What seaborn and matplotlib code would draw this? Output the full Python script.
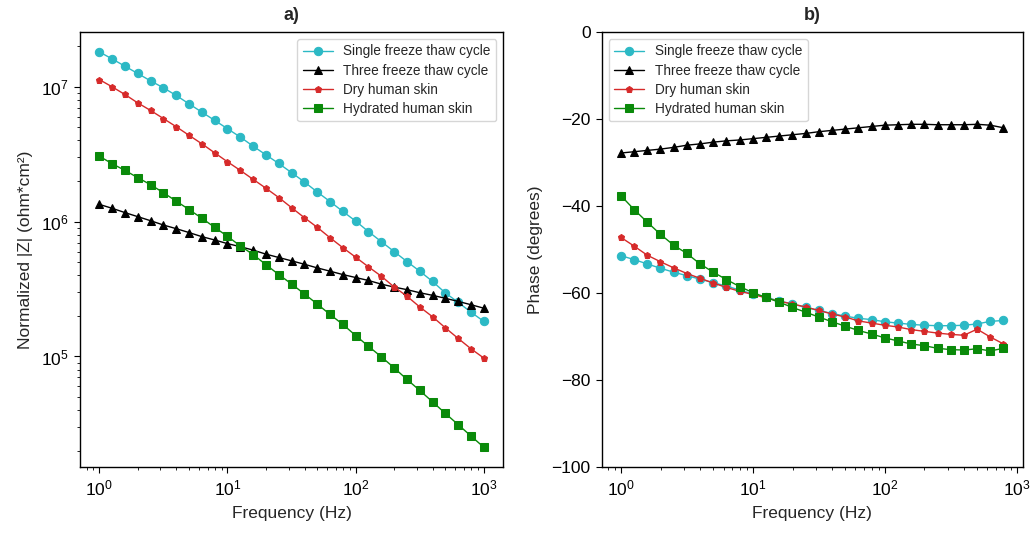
import matplotlib
matplotlib.use("Agg")
import matplotlib.pyplot as plt
import seaborn as sns
import numpy as np

# Frequencies (Hz), 10 points per decade
freq = [1.0, 1.259, 1.585, 1.995, 2.512, 3.162, 3.981, 5.012, 6.310, 7.943,
        10.0, 12.59, 15.85, 19.95, 25.12, 31.62, 39.81, 50.12, 63.10, 79.43,
        100.0, 125.9, 158.5, 199.5, 251.2, 316.2, 398.1, 501.2, 631.0, 794.3,
        1000.0]

labels = ["Single freeze thaw cycle", "Three freeze thaw cycle",
          "Dry human skin", "Hydrated human skin"]

# Panel a) normalized |Z| (ohm*cm^2)
z_single = [1.816e7, 1.611e7, 1.422e7, 1.256e7, 1.107e7, 9.84e6, 8.63e6, 7.48e6, 6.49e6, 5.64e6,
            4.89e6, 4.24e6, 3.63e6, 3.13e6, 2.70e6, 2.31e6, 1.97e6, 1.66e6, 1.41e6, 1.19e6,
            1.01e6, 8.43e5, 7.11e5, 6.00e5, 5.06e5, 4.29e5, 3.60e5, 2.96e5, 2.52e5, 2.13e5,
            1.82e5]
z_three = [1.343e6, 1.256e6, 1.167e6, 1.089e6, 1.016e6, 9.44e5, 8.87e5, 8.30e5, 7.74e5, 7.31e5,
           6.87e5, 6.52e5, 6.15e5, 5.74e5, 5.42e5, 5.12e5, 4.83e5, 4.54e5, 4.29e5, 4.05e5,
           3.85e5, 3.66e5, 3.44e5, 3.27e5, 3.13e5, 2.97e5, 2.84e5, 2.70e5, 2.56e5, 2.42e5,
           2.28e5]
z_dry = [1.132e7, 1.000e7, 8.77e6, 7.60e6, 6.68e6, 5.82e6, 5.06e6, 4.37e6, 3.78e6, 3.24e6,
         2.78e6, 2.40e6, 2.06e6, 1.77e6, 1.51e6, 1.27e6, 1.07e6, 9.08e5, 7.60e5, 6.41e5,
         5.45e5, 4.62e5, 3.94e5, 3.28e5, 2.80e5, 2.33e5, 1.97e5, 1.63e5, 1.36e5, 1.14e5,
         9.73e4]
z_hyd = [3.06e6, 2.69e6, 2.40e6, 2.12e6, 1.88e6, 1.64e6, 1.42e6, 1.23e6, 1.06e6, 9.08e5,
         7.78e5, 6.61e5, 5.70e5, 4.80e5, 4.05e5, 3.45e5, 2.91e5, 2.45e5, 2.05e5, 1.73e5,
         1.43e5, 1.19e5, 9.95e4, 8.24e4, 6.76e4, 5.60e4, 4.61e4, 3.78e4, 3.12e4, 2.57e4,
         2.12e4]

# Panel b) phase (degrees), first 30 frequencies
p_single = [-51.4, -52.3, -53.3, -54.3, -55.2, -56.0, -56.8, -57.6, -58.4, -59.3,
            -60.2, -61.0, -61.8, -62.5, -63.3, -64.0, -64.7, -65.3, -65.8, -66.1,
            -66.6, -66.9, -67.2, -67.4, -67.5, -67.5, -67.4, -67.1, -66.5, -66.3]
p_three = [-27.8, -27.5, -27.2, -26.9, -26.5, -26.0, -25.7, -25.3, -25.0, -24.8,
           -24.5, -24.2, -23.9, -23.6, -23.3, -22.9, -22.6, -22.3, -22.0, -21.7,
           -21.4, -21.3, -21.2, -21.2, -21.3, -21.3, -21.3, -21.2, -21.4, -22.0]
p_dry = [-47.2, -49.2, -51.3, -52.8, -54.2, -55.5, -56.6, -57.7, -58.7, -59.6,
         -60.3, -61.1, -61.9, -62.5, -63.2, -64.0, -64.8, -65.5, -66.4, -66.9,
         -67.4, -67.8, -68.4, -68.8, -69.2, -69.5, -69.7, -68.3, -70.1, -71.7]
p_hyd = [-37.6, -40.8, -43.7, -46.5, -49.0, -50.9, -53.3, -55.2, -56.9, -58.5,
         -59.9, -61.0, -62.1, -63.3, -64.4, -65.5, -66.6, -67.6, -68.6, -69.4,
         -70.3, -71.0, -71.7, -72.1, -72.7, -73.0, -73.1, -72.8, -73.3, -72.7]

colors = ["#2cb9c5", "#000000", "#d62a2a", "#0a8a0a"]
markers = ["o", "^", "p", "s"]
msizes = [6, 6, 4.5, 6]

sns.set_style("ticks")
plt.rcParams['font.family'] = ['Liberation Sans', 'DejaVu Sans']
plt.rcParams['mathtext.fontset'] = 'custom'
plt.rcParams['mathtext.rm'] = 'Liberation Sans'
plt.rcParams['mathtext.it'] = 'Liberation Sans:italic'
plt.rcParams['axes.edgecolor'] = 'black'
plt.rcParams['xtick.color'] = 'black'
plt.rcParams['ytick.color'] = 'black'

fig = plt.figure(figsize=(10.34, 5.35), dpi=100)
ax1 = fig.add_axes([0.0774, 0.127, 0.4091, 0.813])
ax2 = fig.add_axes([0.582, 0.127, 0.407, 0.813])

fsz = 12.5
for ys, c, m, ms, lab in zip([z_single, z_three, z_dry, z_hyd], colors, markers, msizes, labels):
    sns.lineplot(x=freq, y=ys, ax=ax1, color=c, marker=m, markersize=ms,
                 markeredgecolor=c, linewidth=1.0, label=lab, sort=False)
n = len(p_single)
for ys, c, m, ms, lab in zip([p_single, p_three, p_dry, p_hyd], colors, markers, msizes, labels):
    sns.lineplot(x=freq[:n], y=ys, ax=ax2, color=c, marker=m, markersize=ms,
                 markeredgecolor=c, linewidth=1.0, label=lab, sort=False)

ax1.set_xscale('log')
ax1.set_yscale('log')
ax2.set_xscale('log')
ax2.set_ylim(-100, 0)
ax2.set_yticks([-100, -80, -60, -40, -20, 0])

ax1.set_xlabel("Frequency (Hz)", fontsize=fsz, labelpad=6)
ax1.set_ylabel("Normalized |Z| (ohm*cm²)", fontsize=fsz, labelpad=6)
ax2.set_xlabel("Frequency (Hz)", fontsize=fsz, labelpad=6)
ax2.set_ylabel("Phase (degrees)", fontsize=fsz, labelpad=6)
ax1.set_title("a)", fontsize=13, fontweight='bold', pad=9)
ax2.set_title("b)", fontsize=13, fontweight='bold', pad=9)

for ax in (ax1, ax2):
    ax.tick_params(axis='both', which='major', labelsize=fsz, direction='out', length=4.5, width=0.8)
    ax.tick_params(axis='both', which='minor', direction='out', length=2.5, width=0.6)
    for s in ax.spines.values():
        s.set_visible(True)
        s.set_linewidth(1.0)
        s.set_color('black')

ax1.legend(loc='upper right', fontsize=9.8, frameon=True, fancybox=True, framealpha=0.8,
           edgecolor='#cccccc', handlelength=2.2, labelspacing=0.38)
ax2.legend(loc='upper left', fontsize=9.8, frameon=True, fancybox=True, framealpha=0.8,
           edgecolor='#cccccc', handlelength=2.2, labelspacing=0.38)

fig.savefig("out.png", dpi=100)
